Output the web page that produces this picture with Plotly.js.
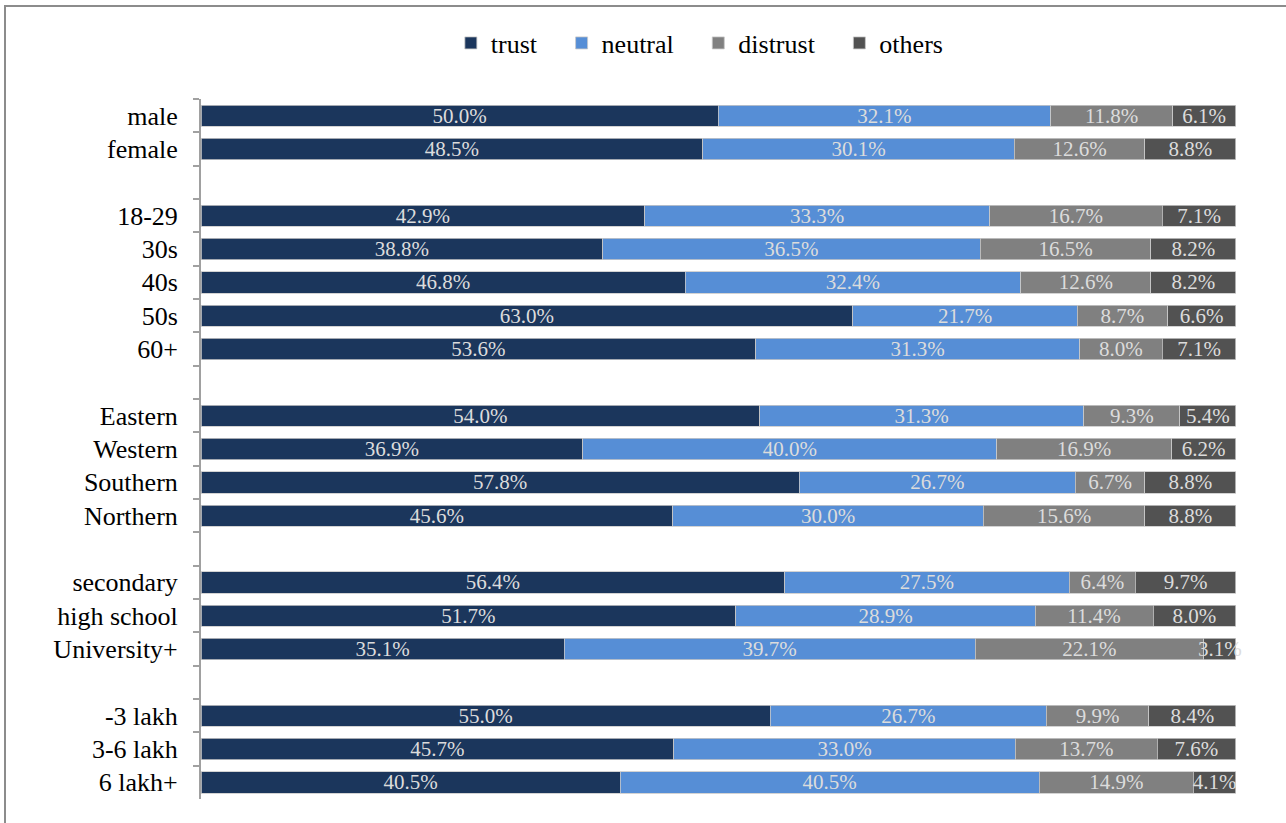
<!DOCTYPE html>
<html>
<head>
<meta charset="utf-8">
<script src="https://cdn.plot.ly/plotly-3.0.1.min.js"></script>
<style>
  body { margin: 0; padding: 0; background: #ffffff; }
  #chart { position: absolute; left: 0; top: 0; width: 1286px; height: 823px; }
  #frame { position: absolute; left: 4px; top: 5px; width: 1290px; height: 840px;
           border-left: 2px solid #8c8c8c; border-top: 2px solid #8c8c8c; pointer-events: none; }
</style>
</head>
<body>
<div id="chart"></div>
<div id="frame"></div>
<script>
// Categories, top to bottom (blank entries are the gaps between groups)
const categories = ["male", "female", " ",
  "18-29", "30s", "40s", "50s", "60+", "  ",
  "Eastern", "Western", "Southern", "Northern", "   ",
  "secondary", "high school", "University+", "    ",
  "-3 lakh", "3-6 lakh", "6 lakh+"];

const trust    = [50.0, 48.5, null, 42.9, 38.8, 46.8, 63.0, 53.6, null, 54.0, 36.9, 57.8, 45.6, null, 56.4, 51.7, 35.1, null, 55.0, 45.7, 40.5];
const neutral  = [32.1, 30.1, null, 33.3, 36.5, 32.4, 21.7, 31.3, null, 31.3, 40.0, 26.7, 30.0, null, 27.5, 28.9, 39.7, null, 26.7, 33.0, 40.5];
const distrust = [11.8, 12.6, null, 16.7, 16.5, 12.6,  8.7,  8.0, null,  9.3, 16.9,  6.7, 15.6, null,  6.4, 11.4, 22.1, null,  9.9, 13.7, 14.9];
const others   = [ 6.1,  8.8, null,  7.1,  8.2,  8.2,  6.6,  7.1, null,  5.4,  6.2,  8.8,  8.8, null,  9.7,  8.0,  3.1, null,  8.4,  7.6,  4.1];

const seriesNames = ["trust", "neutral", "distrust", "others"];
const seriesValues = [trust, neutral, distrust, others];
const seriesColors = ["#1b365c", "#568ed6", "#808080", "#525252"];

const FONT = "'Liberation Serif', 'Times New Roman', serif";
const PAD = "\u00a0\u00a0\u00a0";

const traces = seriesNames.map((name, i) => ({
  type: "bar",
  orientation: "h",
  name: i < seriesNames.length - 1 ? name + PAD : name,
  y: categories,
  x: seriesValues[i],
  text: seriesValues[i].map(v => v === null ? "" : v.toFixed(1) + "%"),
  textposition: "inside",
  insidetextanchor: "middle",
  textangle: 0,
  insidetextfont: { family: FONT, size: 21, color: "#dcdcdc" },
  cliponaxis: false,
  hoverinfo: "none",
  marker: { color: seriesColors[i], line: { color: "#c8c8c8", width: 0.8 } }
}));

const layout = {
  width: 1286,
  height: 823,
  barmode: "stack",
  bargap: 0.36,
  paper_bgcolor: "#ffffff",
  plot_bgcolor: "#ffffff",
  margin: { l: 201, r: 50, t: 99, b: 24 },
  font: { family: FONT, size: 26, color: "#000000" },
  uniformtext: { minsize: 21, mode: "show" },
  showlegend: true,
  legend: {
    orientation: "h",
    x: 0.482, xanchor: "center",
    y: 1.080, yanchor: "middle",
    font: { family: FONT, size: 26, color: "#000000" },
    traceorder: "normal",
    itemwidth: 30,
    itemclick: false
  },
  xaxis: {
    range: [0, 100.02],
    showgrid: false,
    zeroline: false,
    showline: false,
    showticklabels: false,
    ticks: "",
    fixedrange: true
  },
  yaxis: {
    type: "category",
    categoryorder: "array",
    categoryarray: categories,
    autorange: "reversed",
    showgrid: false,
    zeroline: false,
    showline: true,
    linecolor: "#a0a0a0",
    linewidth: 2,
    ticks: "outside",
    tickson: "boundaries",
    ticklen: 6,
    tickwidth: 2,
    tickcolor: "#a0a0a0",
    ticklabelstandoff: 16,
    tickfont: { family: FONT, size: 26, color: "#000000" },
    fixedrange: true
  }
};

Plotly.newPlot("chart", traces, layout, { displayModeBar: false, staticPlot: true });
</script>
</body>
</html>
